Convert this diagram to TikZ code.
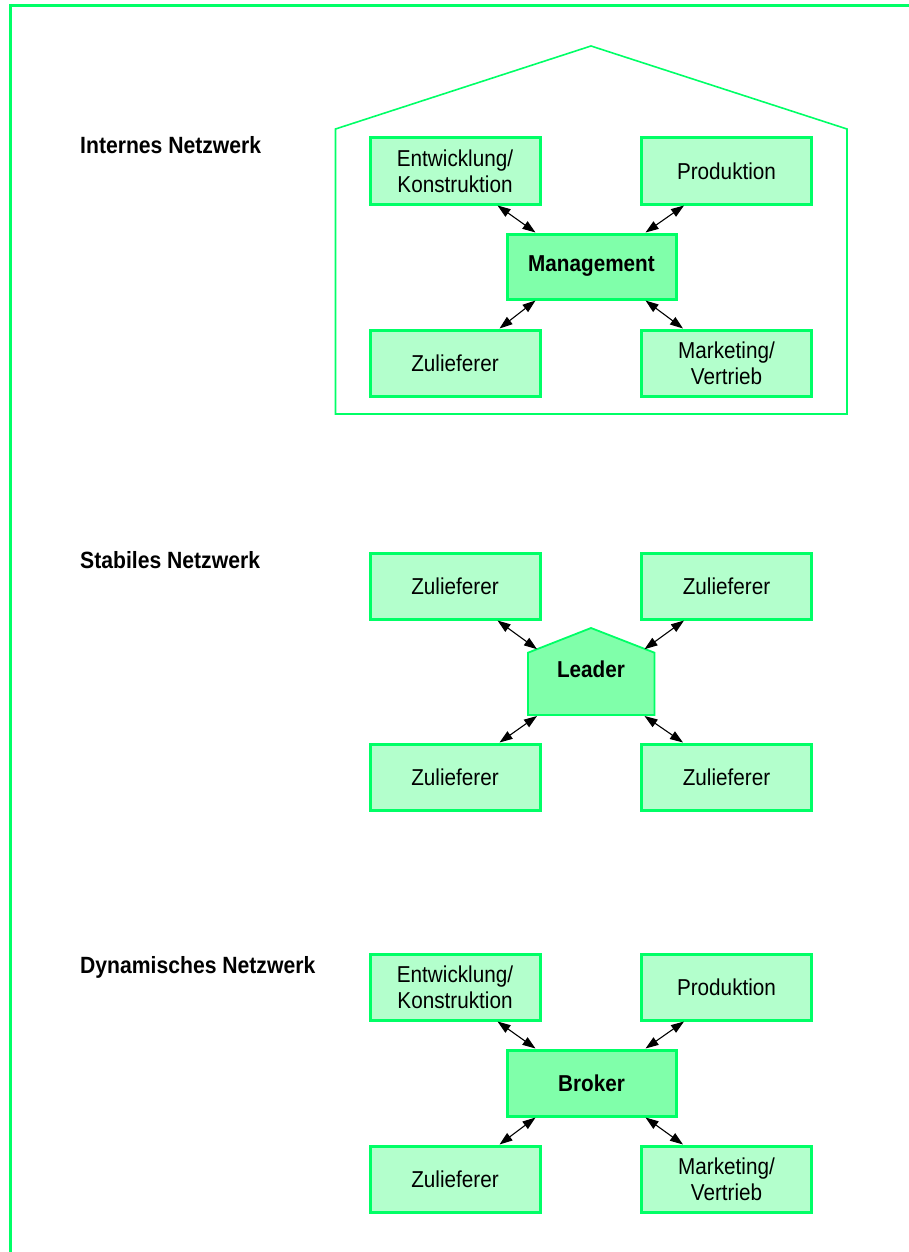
\documentclass[tikz,border=0pt]{standalone}
\usepackage{fontspec}
\setmainfont[FakeStretch=0.9]{Liberation Sans}
\usetikzlibrary{arrows.meta,calc}
\definecolor{netgreen}{RGB}{0,255,102}
\definecolor{boxfill}{RGB}{179,255,204}
\definecolor{hubfill}{RGB}{128,255,170}

\begin{document}
\begin{tikzpicture}[x=1pt,y=-1pt,
  every node/.style={font=\fontsize{23}{25.7}\selectfont},
  unit/.style={draw=netgreen, line width=3pt, fill=boxfill,
    minimum width=170pt, minimum height=66pt, inner sep=0pt, align=center},
  hub/.style={unit, fill=hubfill, font=\fontsize{23}{25.7}\selectfont\bfseries},
  title/.style={anchor=base west, inner sep=0pt,
    font=\fontsize{23.5}{25.7}\selectfont\bfseries},
  link/.style={line width=1.1pt,
    {Triangle[length=13pt,width=9pt]}-{Triangle[length=13pt,width=9pt]}},
  outline/.style={draw=netgreen, line width=1.6pt, line join=miter}]

\useasboundingbox (0,0) rectangle (909,1252);

% page frame: top and left rule
\draw[netgreen, line width=3pt] (909,5.5) -- (10.7,5.5) -- (10.7,1252);

% ---------- Internes Netzwerk ----------
\node[title] (t1) at (80,154) {Internes Netzwerk};
\draw[outline] (335.5,129) -- (591,46) -- (847,129) -- (847,414)
  -- (335.5,414) -- cycle;

\node[unit] (ek1) at (455,171) {Entwicklung/\\Konstruktion};
\node[unit] (pr1) at (726.5,171) {Produktion};
\node[hub, minimum width=169pt, minimum height=65pt] (mg) at (591.5,266.5) {Management};
\node[unit] (zl1) at (455,363) {Zulieferer};
\node[unit] (mv1) at (726.5,363) {Marketing/\\Vertrieb};

\draw[link] ($(ek1.south east)+(-44,0)$) -- ($(mg.north west)+(30,0)$);
\draw[link] ($(pr1.south west)+(44,0)$) -- ($(mg.north east)+(-32,0)$);
\draw[link] ($(mg.south west)+(30,0)$) -- ($(zl1.north east)+(-42,0)$);
\draw[link] ($(mg.south east)+(-32,0)$) -- ($(mv1.north west)+(43,0)$);

% ---------- Stabiles Netzwerk ----------
\node[title] (t2) at (80,568.3) {Stabiles Netzwerk};

\node[unit] (zl2a) at (455,586) {Zulieferer};
\node[unit] (zl2b) at (726.5,586) {Zulieferer};
\node[unit] (zl2c) at (455,777) {Zulieferer};
\node[unit] (zl2d) at (726.5,777) {Zulieferer};

\draw[draw=netgreen, line width=1.8pt, fill=hubfill, line join=miter]
  (528,652.7) -- (591,628) -- (654.5,652.7) -- (654.5,715) -- (528,715) -- cycle;
\node[font=\fontsize{23}{25.7}\selectfont\bfseries] (ld) at (591,669) {Leader};
\coordinate (ld-nw) at (537,649.2);
\coordinate (ld-ne) at (644.5,649.2);
\coordinate (ld-sw) at (537,716);
\coordinate (ld-se) at (644.5,716);

\draw[link] ($(zl2a.south east)+(-44,0)$) -- (ld-nw);
\draw[link] ($(zl2b.south west)+(44,0)$) -- (ld-ne);
\draw[link] (ld-sw) -- ($(zl2c.north east)+(-42,0)$);
\draw[link] (ld-se) -- ($(zl2d.north west)+(43,0)$);

% ---------- Dynamisches Netzwerk ----------
\node[title] (t3) at (80,973.3) {Dynamisches Netzwerk};

\node[unit] (ek3) at (455,987) {Entwicklung/\\Konstruktion};
\node[unit] (pr3) at (726.5,987) {Produktion};
\node[hub, minimum width=169pt] (bk) at (591.5,1083) {Broker};
\node[unit] (zl3) at (455,1179) {Zulieferer};
\node[unit] (mv3) at (726.5,1179) {Marketing/\\Vertrieb};

\draw[link] ($(ek3.south east)+(-44,0)$) -- ($(bk.north west)+(30,0)$);
\draw[link] ($(pr3.south west)+(44,0)$) -- ($(bk.north east)+(-32,0)$);
\draw[link] ($(bk.south west)+(30,0)$) -- ($(zl3.north east)+(-42,0)$);
\draw[link] ($(bk.south east)+(-32,0)$) -- ($(mv3.north west)+(43,0)$);
\end{tikzpicture}
\end{document}
